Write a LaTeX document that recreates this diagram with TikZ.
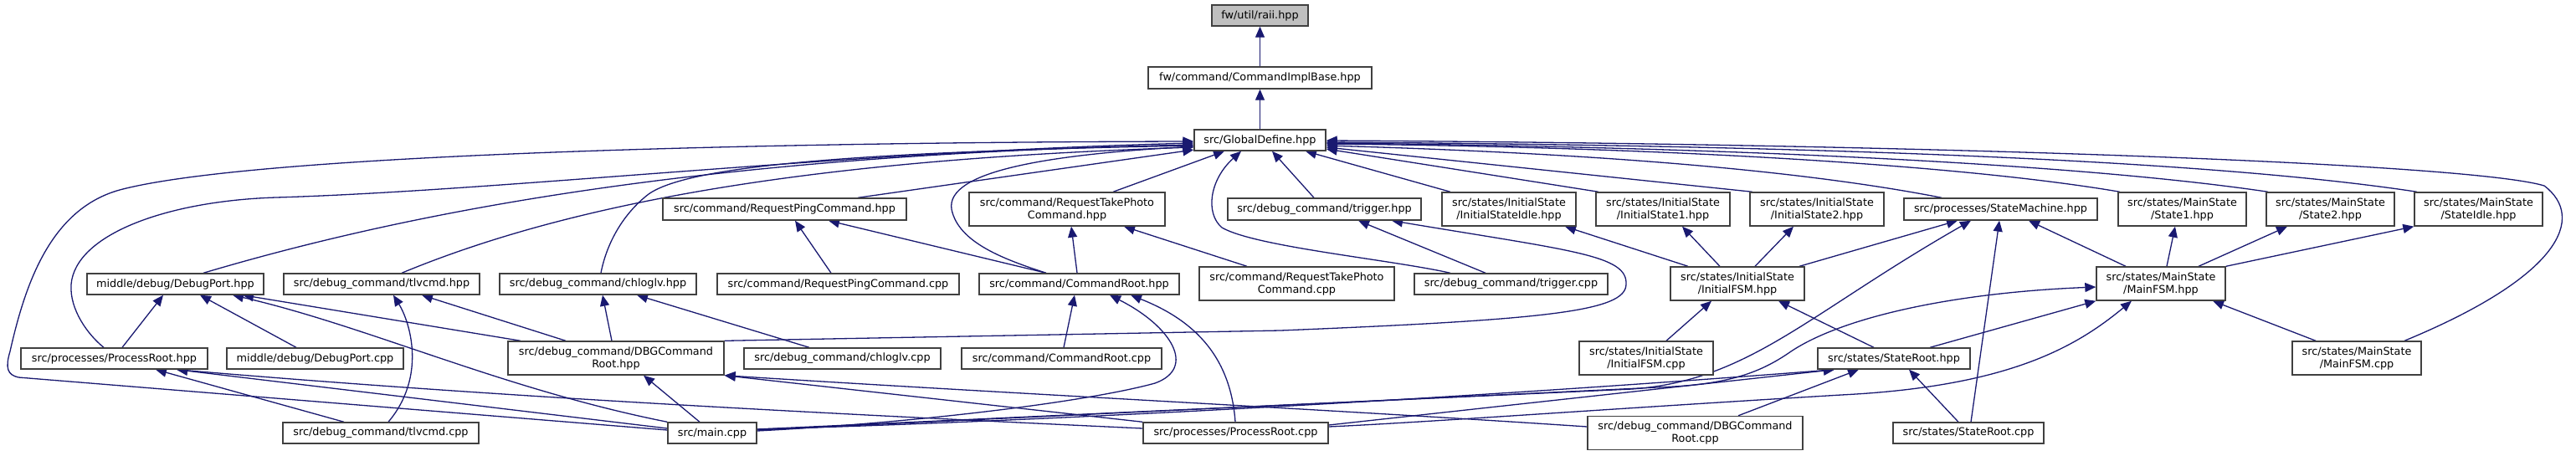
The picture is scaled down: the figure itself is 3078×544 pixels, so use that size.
\documentclass[tikz,border=0pt]{standalone}
\usepackage{fontspec}
\usetikzlibrary{arrows.meta}
\newfontfamily\dgfont{DejaVu Sans}
\definecolor{edgec}{HTML}{191970}
\definecolor{boxc}{HTML}{404040}
\definecolor{rootfill}{HTML}{BFBFBF}
\pgfdeclarelayer{bg}
\pgfsetlayers{bg,main}
\tikzset{
  box/.style={draw=boxc, line width=1.4pt, fill=white, inner sep=0pt, align=center,
    font=\dgfont\fontsize{12.8pt}{15pt}\selectfont},
  ed/.style={draw=edgec, line width=1.3pt, {Triangle[length=13pt,width=11pt]}-},
}
\begin{document}
\begin{tikzpicture}[x=1pt,y=-1pt]
\useasboundingbox (0,0) rectangle (3078,544);
% row 0-2
\node[box, fill=rootfill, minimum width=115pt, minimum height=25pt] (raii) at (1505.5,18.5) {fw/util/raii.hpp};
\node[box, minimum width=267pt, minimum height=26pt] (cib) at (1505.5,93) {fw/command/CommandImplBase.hpp};
\node[box, minimum width=157pt, minimum height=25pt] (gd) at (1505.5,167.5) {src/GlobalDefine.hpp};
% row 3
\node[box, minimum width=291pt, minimum height=26pt] (rpch) at (937.5,250) {src/command/RequestPingCommand.hpp};
\node[box, minimum width=234pt, minimum height=40pt] (rtph) at (1275,250) {src/command/RequestTakePhoto\\Command.hpp};
\node[box, minimum width=231pt, minimum height=26pt] (trigh) at (1582.5,250) {src/debug\_command/trigger.hpp};
\node[box, minimum width=160pt, minimum height=40pt] (isidle) at (1803,250) {src/states/InitialState\\/InitialStateIdle.hpp};
\node[box, minimum width=160pt, minimum height=40pt] (isone) at (1987,250) {src/states/InitialState\\/InitialState1.hpp};
\node[box, minimum width=160pt, minimum height=40pt] (istwo) at (2171,250) {src/states/InitialState\\/InitialState2.hpp};
\node[box, minimum width=231pt, minimum height=26pt] (sm) at (2390.5,250) {src/processes/StateMachine.hpp};
\node[box, minimum width=153pt, minimum height=40pt] (msone) at (2607.5,250) {src/states/MainState\\/State1.hpp};
\node[box, minimum width=153pt, minimum height=40pt] (mstwo) at (2784.5,250) {src/states/MainState\\/State2.hpp};
\node[box, minimum width=153pt, minimum height=40pt] (msidle) at (2961.5,250) {src/states/MainState\\/StateIdle.hpp};
% row 4
\node[box, minimum width=211pt, minimum height=25pt] (dph) at (209.5,339.5) {middle/debug/DebugPort.hpp};
\node[box, minimum width=234pt, minimum height=25pt] (tlvh) at (456,339.5) {src/debug\_command/tlvcmd.hpp};
\node[box, minimum width=235pt, minimum height=25pt] (chlh) at (714.5,339.5) {src/debug\_command/chloglv.hpp};
\node[box, minimum width=289pt, minimum height=25pt] (rpccpp) at (1001.5,339.5) {src/command/RequestPingCommand.cpp};
\node[box, minimum width=239pt, minimum height=25pt] (crh) at (1289.5,339.5) {src/command/CommandRoot.hpp};
\node[box, minimum width=233pt, minimum height=40pt] (rtpcpp) at (1549.5,339) {src/command/RequestTakePhoto\\Command.cpp};
\node[box, minimum width=231pt, minimum height=25pt] (trigcpp) at (1805.5,339.5) {src/debug\_command/trigger.cpp};
\node[box, minimum width=160pt, minimum height=40pt] (ifsmh) at (2076,339) {src/states/InitialState\\/InitialFSM.hpp};
\node[box, minimum width=154pt, minimum height=40pt] (mfsmh) at (2582,339) {src/states/MainState\\/MainFSM.hpp};
% row 5
\node[box, minimum width=223pt, minimum height=25pt] (prh) at (136.5,428.5) {src/processes/ProcessRoot.hpp};
\node[box, minimum width=211pt, minimum height=25pt] (dpcpp) at (376.5,428.5) {middle/debug/DebugPort.cpp};
\node[box, minimum width=258pt, minimum height=40pt] (dbgh) at (736,428) {src/debug\_command/DBGCommand\\Root.hpp};
\node[box, minimum width=235pt, minimum height=25pt] (chlcpp) at (1006.5,428.5) {src/debug\_command/chloglv.cpp};
\node[box, minimum width=239pt, minimum height=25pt] (crcpp) at (1268.5,428.5) {src/command/CommandRoot.cpp};
\node[box, minimum width=160pt, minimum height=40pt] (ifsmcpp) at (1967,428) {src/states/InitialState\\/InitialFSM.cpp};
\node[box, minimum width=182pt, minimum height=25pt] (srh) at (2263,428.5) {src/states/StateRoot.hpp};
\node[box, minimum width=154pt, minimum height=40pt] (mfsmcpp) at (2816,428) {src/states/MainState\\/MainFSM.cpp};
% row 6
\node[box, minimum width=234pt, minimum height=25pt] (tlvcpp) at (455,517.5) {src/debug\_command/tlvcmd.cpp};
\node[box, minimum width=106pt, minimum height=25pt] (main) at (851,517.5) {src/main.cpp};
\node[box, minimum width=221pt, minimum height=25pt] (prcpp) at (1476.5,517.5) {src/processes/ProcessRoot.cpp};
\node[box, minimum width=257pt, minimum height=40pt] (dbgcpp) at (2025.5,517.5) {src/debug\_command/DBGCommand\\Root.cpp};
\node[box, minimum width=180pt, minimum height=25pt] (srcpp) at (2352,517.5) {src/states/StateRoot.cpp};

\begin{pgfonlayer}{bg}
\draw[ed] (raii) -- (cib);
\draw[ed] (cib) -- (gd);
% GlobalDefine, left side
\draw[ed] (gd.west |- 0,169) .. controls (900,170) and (300,185) .. (143,227) .. controls (60,250) and (30,340) .. (12,420) .. controls (6,440) and (9,448) .. (22,451) -- (main.west |- 0,514);
\draw[ed] (gd.west |- 0,171) .. controls (1000,182) and (600,228) .. (330,236) .. controls (200,240) and (90,280) .. (85,340) .. controls (83,370) and (105,400) .. (prh.north -| 124,0);
\draw[ed] (gd.west |- 0,173) .. controls (850,185) and (500,250) .. (dph.north -| 243,0);
\draw[ed] (gd.west |- 0,176) .. controls (1000,190) and (700,235) .. (tlvh.north -| 480,0);
\draw[ed] (gd.west |- 0,174) .. controls (1000,182) and (820,200) .. (775,232) .. controls (745,255) and (725,290) .. (chlh.north -| 718,0);
\draw[ed] (gd.west |- 0,175) .. controls (1250,185) and (1130,205) .. (1137,250) .. controls (1145,290) and (1200,310) .. (crh.north -| 1250,0);
\draw[ed] (gd.west |- 0,179) -- (rpch.north -| 1025,0);
% GlobalDefine, bottom
\draw[ed] (gd.south -| 1463,0) -- (rtph.north -| 1330,0);
\draw[ed] (gd.south -| 1483,0) .. controls (1445,215) and (1440,255) .. (1460,272) .. controls (1500,295) and (1660,310) .. (trigcpp.north -| 1733,0);
\draw[ed] (gd.south -| 1520,0) -- (trigh.north -| 1570,0);
\draw[ed] (gd.south -| 1560,0) -- (isidle.north -| 1733,0);
% GlobalDefine, right side
\draw[ed] (gd.east |- 0,178) -- (isone.north -| 1910,0);
\draw[ed] (gd.east |- 0,176) -- (istwo.north -| 2094,0);
\draw[ed] (gd.east |- 0,174) .. controls (1900,183) and (2150,203) .. (sm.north -| 2320,0);
\draw[ed] (gd.east |- 0,172) .. controls (2000,176) and (2350,198) .. (msone.north -| 2533,0);
\draw[ed] (gd.east |- 0,171) .. controls (2100,176) and (2500,198) .. (mstwo.north -| 2710,0);
\draw[ed] (gd.east |- 0,170) .. controls (2200,174) and (2650,193) .. (msidle.north -| 2888,0);
\draw[ed] (gd.east |- 0,168) .. controls (2300,172) and (2950,195) .. (3040,222) .. controls (3090,260) and (3060,330) .. (mfsmcpp.north -| 2873,0);
% row 3 parents
\draw[ed] (rpch.south -| 950,0) -- (rpccpp.north -| 993,0);
\draw[ed] (rpch.south -| 990,0) -- (crh.north -| 1250,0);
\draw[ed] (rtph.south -| 1280,0) -- (crh.north -| 1287,0);
\draw[ed] (rtph.south -| 1343,0) -- (rtpcpp.north -| 1490,0);
\draw[ed] (trigh.south -| 1623,0) -- (trigcpp.north -| 1775,0);
\draw[ed] (trigh.south -| 1663,0) .. controls (1880,300) and (1945,305) .. (1943,340) .. controls (1942,372) and (1850,382) .. (1530,395) -- (dbgh.north east);
\draw[ed] (isidle.south -| 1870,0) -- (ifsmh.north -| 2017,0);
\draw[ed] (isone.south -| 2010,0) -- (ifsmh.north -| 2055,0);
\draw[ed] (istwo.south -| 2143,0) -- (ifsmh.north -| 2097,0);
\draw[ed] (sm.south -| 2339,0) -- (ifsmh.north -| 2150,0);
\draw[ed] (sm.south -| 2355,0) .. controls (2160,375) and (2090,455) .. (1950,465) -- (main.east |- 0,513);
\draw[ed] (sm.south -| 2389,0) -- (srcpp.north -| 2355,0);
\draw[ed] (sm.south -| 2424,0) -- (mfsmh.north -| 2540,0);
\draw[ed] (msone.south -| 2599,0) -- (mfsmh.north -| 2589,0);
\draw[ed] (mstwo.south -| 2733,0) -- (mfsmh.north -| 2627,0);
\draw[ed] (msidle.south west) -- (mfsmh.north east);
% row 4 parents
\draw[ed] (mfsmh.west |- 0,343) .. controls (2330,350) and (2200,380) .. (2140,420) .. controls (2100,448) and (2060,460) .. (1980,463) -- (main.east |- 0,514);
\draw[ed] (mfsmh.south -| 2644,0) -- (mfsmcpp.north -| 2767,0);
\draw[ed] (mfsmh.south west) -- (srh.north -| 2306,0);
\draw[ed] (mfsmh.south -| 2547,0) .. controls (2480,415) and (2400,462) .. (2200,472) .. controls (1900,490) and (1700,505) .. (prcpp.east |- 0,510);
\draw[ed] (ifsmh.south -| 2045,0) -- (ifsmcpp.north -| 1991,0);
\draw[ed] (ifsmh.south -| 2125,0) -- (srh.north -| 2239,0);
\draw[ed] (dph.south -| 290,0) -- (dbgh.north -| 622,0);
\draw[ed] (dph.south -| 278,0) .. controls (440,390) and (600,465) .. (main.north west);
\draw[ed] (dph.south -| 239,0) -- (dpcpp.north -| 354,0);
\draw[ed] (dph.south -| 195,0) -- (prh.north -| 146,0);
\draw[ed] (tlvh.south -| 504,0) -- (dbgh.north -| 676,0);
\draw[ed] (tlvh.south -| 470,0) .. controls (490,385) and (510,450) .. (tlvcpp.north -| 464,0);
\draw[ed] (chlh.south -| 720,0) -- (dbgh.north -| 731,0);
\draw[ed] (chlh.south -| 761,0) -- (chlcpp.north -| 967,0);
\draw[ed] (crh.south -| 1284,0) -- (crcpp.north -| 1271,0);
\draw[ed] (crh.south -| 1326,0) .. controls (1400,390) and (1430,440) .. (1380,458) .. controls (1300,480) and (1100,505) .. (main.east |- 0,515);
\draw[ed] (crh.south -| 1351,0) .. controls (1420,380) and (1470,420) .. (prcpp.north -| 1476,0);
% row 5 parents
\draw[ed] (prh.south -| 186,0) -- (tlvcpp.north -| 411,0);
\draw[ed] (prh.south -| 211,0) -- (main.west |- 0,512);
\draw[ed] (prh.south -| 211,0) .. controls (600,475) and (1000,495) .. (prcpp.west |- 0,512);
\draw[ed] (dbgh.south -| 769,0) -- (main.north -| 836,0);
\draw[ed] (dbgh.south east) -- (prcpp.north west);
\draw[ed] (dbgh.south east) .. controls (1200,470) and (1600,490) .. (dbgcpp.west |- 0,510);
\draw[ed] (srh.south -| 2281,0) -- (srcpp.north -| 2340,0);
\draw[ed] (srh.south -| 2221,0) -- (dbgcpp.north -| 2077,0);
\draw[ed] (srh.south -| 2192,0) -- (prcpp.east |- 0,508);
\draw[ed] (srh.south -| 2192,0) .. controls (1700,480) and (1200,505) .. (main.east |- 0,513);
\end{pgfonlayer}
\end{tikzpicture}
\end{document}
